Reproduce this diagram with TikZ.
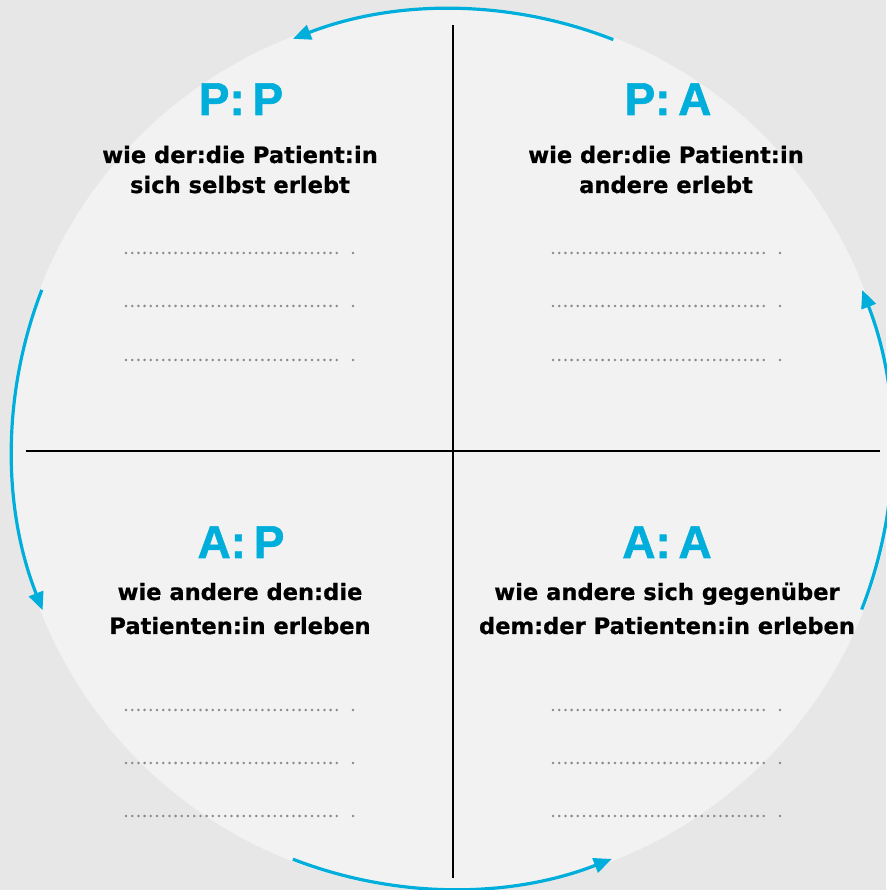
\documentclass[tikz,border=0pt]{standalone}
\usepackage{fontspec}
\setmainfont{DejaVu Sans}[BoldFeatures={FakeBold=0.7}]
\newfontfamily\headfont{Liberation Sans}[BoldFeatures={FakeBold=1.2}]
\usetikzlibrary{arrows.meta}
\definecolor{pagegray}{HTML}{E7E7E7}
\definecolor{discgray}{HTML}{F2F2F2}
\definecolor{cyanblue}{HTML}{00AEDB}
\definecolor{dotgray}{HTML}{8A8A8A}
\begin{document}
\begin{tikzpicture}[x=1pt,y=1pt,
  heading/.style={text=cyanblue, font=\headfont\fontsize{46}{46}\selectfont\bfseries, anchor=base, inner sep=0pt},
  body/.style={text=black, font=\fontsize{22.6}{30}\selectfont\bfseries, anchor=base, inner sep=0pt},
  cyclearrow/.style={draw=cyanblue, line width=3.2pt, -{Triangle[length=18pt,width=15pt]}},
  axisline/.style={draw=black, line width=2.5pt},
  leader/.style={draw=dotgray, line width=2.8pt, line cap=round, dash pattern=on 0pt off 6.2pt}]
% page and disc
\fill[pagegray] (0,0) rectangle (886,890);
\useasboundingbox (0,0) rectangle (886,890);
\coordinate (c) at (452,441);
\fill[discgray] (c) circle[radius=442pt];

% quadrant axes
\coordinate (vtop) at (453,865);
\coordinate (vbot) at (453,12);
\coordinate (hleft) at (26,439);
\coordinate (hright) at (880,439);
\draw[axisline] (vtop) -- (vbot);
\draw[axisline] (hleft) -- (hright);

% circulating arrows
\draw[cyclearrow] ([shift={(68.5:440pt)}]c) arc[start angle=68.5, end angle=111.2, radius=440pt];
\draw[cyclearrow] ([shift={(158.8:440pt)}]c) arc[start angle=158.8, end angle=201.5, radius=440pt];
\draw[cyclearrow] ([shift={(248.8:440pt)}]c) arc[start angle=248.8, end angle=291.3, radius=440pt];
\draw[cyclearrow] ([shift={(-21.4:440pt)}]c) arc[start angle=-21.4, end angle=21.2, radius=440pt];

% headings
\node[heading] (pp) at (241,775) {P:\,P};
\node[heading] (pa) at (668,775) {P:\,A};
\node[heading] (ap) at (241,332) {A:\,P};
\node[heading] (aa) at (667,332) {A:\,A};

% descriptions
\node[body] (pp1) at (240,727) {wie der:die Patient:in};
\node[body] (pp2) at (240,697) {sich selbst erlebt};
\node[body] (pa1) at (666,727) {wie der:die Patient:in};
\node[body] (pa2) at (666,697) {andere erlebt};
\node[body] (ap1) at (240,290) {wie andere den:die};
\node[body] (ap2) at (240,256) {Patienten:in erleben};
\node[body] (aa1) at (667,290) {wie andere sich gegenüber};
\node[body] (aa2) at (667,256) {dem:der Patienten:in erleben};

% writing lines
\foreach \x in {126,553}{
  \foreach \y in {637,584,530,180,127,74}{
    \draw[leader] (\x,\y) -- ++(212.5,0);
    \fill[dotgray] (\x+227,\y) circle[radius=1.4pt];
  }
}
\end{tikzpicture}
\end{document}
